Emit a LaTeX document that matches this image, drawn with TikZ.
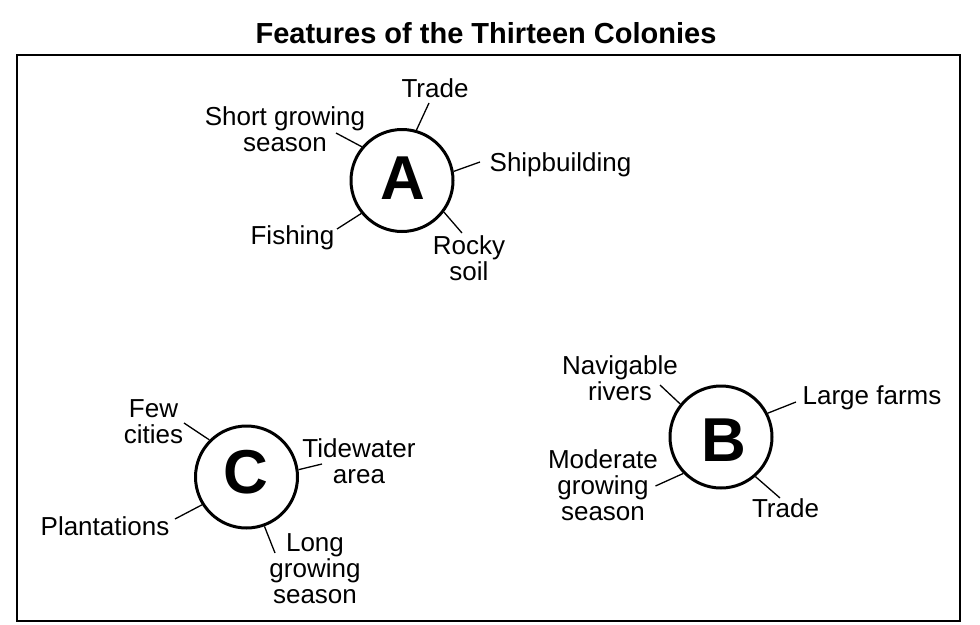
\documentclass[tikz,border=0pt]{standalone}
\usepackage{fontspec}
\setmainfont{Liberation Sans}
\begin{document}
\begin{tikzpicture}[x=1pt,y=-1pt,
  lab/.style={font=\fontsize{26}{26}\selectfont, inner sep=0pt, align=center, anchor=base},
  big/.style={font=\fontsize{62}{62}\selectfont\bfseries, inner sep=0pt, anchor=base},
  ring/.style={circle, draw, line width=3pt, minimum size=102pt, inner sep=0pt},
  conn/.style={line width=1.3pt},
  ttl/.style={font=\fontsize{29}{30}\selectfont\bfseries, inner sep=0pt, anchor=base}]
\useasboundingbox (0,0) rectangle (980,624);
\node[ttl] (title) at (486,43.3) {Features of the Thirteen Colonies};
\draw[line width=2.6pt] (17,55) rectangle (960,621);
% A
\node[ring] (A) at (402,180.5) {};
\node[big] (Al) at (403,199) {A};
\node[lab] (atrade) at (435,97.5) {Trade};
\node[lab] (ashort) at (285,151) {Short growing\\season};
\node[lab] (aship) at (560.5,171) {Shipbuilding};
\node[lab] (afish) at (292.5,244) {Fishing};
\node[lab] (arocky) at (469,280) {Rocky\\soil};
\coordinate (atradeE) at (429,103);
\coordinate (ashortE) at (336,133);
\coordinate (ashipE) at (480,162);
\coordinate (afishE) at (337,229);
\coordinate (arockyE) at (462,233);
\draw[conn] (A.74.5) -- (atradeE);
\draw[conn] (A.140) -- (ashortE);
\draw[conn] (A.10.5) -- (ashipE);
\draw[conn] (A.219) -- (afishE);
\draw[conn] (A.-37) -- (arockyE);
% B
\node[ring] (B) at (721,437) {};
\node[big] (Bl) at (724,461) {B};
\node[lab] (bnav) at (620,400.6) {Navigable\\rivers};
\node[lab] (blarge) at (872,404) {Large farms};
\node[lab] (bmod) at (603,520) {Moderate\\growing\\season};
\node[lab] (btrade) at (785.5,517) {Trade};
\coordinate (bnavE) at (660,385);
\coordinate (blargeE) at (796,402);
\coordinate (bmodE) at (655.5,486);
\coordinate (btradeE) at (780,498);
\draw[conn] (B.141) -- (bnavE);
\draw[conn] (B.27) -- (blargeE);
\draw[conn] (B.224) -- (bmodE);
\draw[conn] (B.-49) -- (btradeE);
% C
\node[ring] (C) at (246.5,477) {};
\node[big] (Cl) at (246,493.5) {C};
\node[lab] (cfew) at (153.5,443) {Few\\cities};
\node[lab] (ctide) at (359,483) {Tidewater\\area};
\node[lab] (cplant) at (105,535) {Plantations};
\node[lab] (clong) at (315,603) {Long\\growing\\season};
\coordinate (cfewE) at (184,423);
\coordinate (ctideE) at (322,464);
\coordinate (cplantE) at (175,519);
\coordinate (clongE) at (275,553);
\draw[conn] (C.135) -- (cfewE);
\draw[conn] (C.8) -- (ctideE);
\draw[conn] (C.212) -- (cplantE);
\draw[conn] (C.-70) -- (clongE);
\end{tikzpicture}
\end{document}
